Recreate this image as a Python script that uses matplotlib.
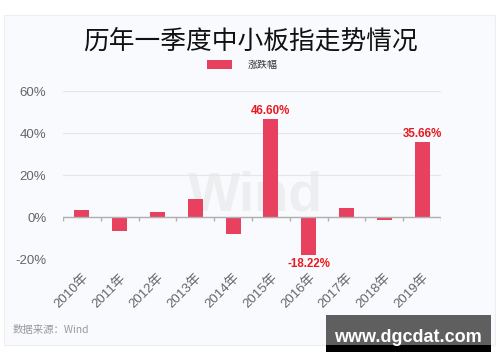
import numpy as np
import matplotlib
matplotlib.use("Agg")
import matplotlib.pyplot as plt
from matplotlib.patches import Rectangle

plt.rcParams['font.family'] = ['Liberation Sans', 'Noto Sans CJK SC', 'DejaVu Sans']

years = ['2010年', '2011年', '2012年', '2013年', '2014年',
         '2015年', '2016年', '2017年', '2018年', '2019年']
change = [3.5, -6.5, 2.4, 8.7, -8.1, 46.60, -18.22, 4.1, -1.4, 35.66]
labeled = ['2015年', '2016年', '2019年']
yticks = [-20, 0, 20, 40, 60]

bar_color = '#e8405f'
panel = '#f9fafd'

fig = plt.figure(figsize=(5, 3.62), dpi=100)
fig.patch.set_facecolor('white')
fig.patches.append(Rectangle((4 / 500, 1 - 345 / 362), 491 / 500, 330 / 362,
                             transform=fig.transFigure, facecolor=panel,
                             edgecolor='#eeeeee', lw=0.8, zorder=-1))

ax = fig.add_axes([0.126, 0.2845, 0.756, 0.464])
ax.set_zorder(2)
ax.set_facecolor(panel)

x = np.arange(len(years))
bars = ax.bar(x, change, width=0.4, color=bar_color, zorder=3)

ax.set_xlim(-0.5, len(years) - 0.5)
ax.set_ylim(-20, 60)
ax.set_yticks(yticks)
ax.set_yticklabels([f'{v}%' for v in yticks])
ax.grid(axis='y', color='#e6e6e6', lw=0.8, zorder=0)
for s in ax.spines.values():
    s.set_visible(False)
ax.tick_params(axis='y', length=0, pad=12, labelsize=9.5, labelcolor='#666666')

# zero line with category separators
ax.axhline(0, color='#b0b0b0', lw=1, zorder=4)
bounds = np.arange(len(years) + 1) - 0.5
ax.vlines(bounds, -2, 0, color='#b0b0b0', lw=1, zorder=4)

ax.set_xticks(x)
ax.set_xticklabels(years, rotation=45, ha='right', rotation_mode='anchor')
ax.tick_params(axis='x', length=0, pad=9, labelsize=9.5, labelcolor='#666666')

for xi, yr, v in zip(x, years, change):
    if yr in labeled:
        off = 1.2 if v > 0 else -1.2
        ax.text(xi, v + off, f'{v:.2f}%', ha='center',
                va='bottom' if v > 0 else 'top',
                color='#e8191f', fontsize=8.3, fontweight='bold', zorder=5)

# faint watermark
ax.text(4.6, 10, 'Wind', ha='center', va='center', fontsize=40,
        color='#d8d8d8', alpha=0.35, fontweight='bold', zorder=1)

fig.text(0.5, 1 - 42 / 362, '历年一季度中小板指走势情况', ha='center', va='center',
         fontsize=18.5, color='#111111', family=['Noto Sans CJK SC'])
fig.patches.append(Rectangle((207 / 500, 1 - 69 / 362), 25 / 500, 9 / 362,
                             transform=fig.transFigure, facecolor=bar_color,
                             edgecolor='none'))
fig.text(248 / 500, 1 - 65 / 362, '涨跌幅', ha='left', va='center',
         fontsize=7.2, color='#333333', family=['Noto Sans CJK SC'])

fig.text(13 / 500, 1 - 330 / 362, '数据来源：Wind', ha='left', va='center',
         fontsize=7.5, color='#999999', family=['Noto Sans CJK SC', 'DejaVu Sans'])

fig.patches.append(Rectangle((326 / 500, 1 - 345 / 362), 165 / 500, 30 / 362,
                             transform=fig.transFigure, facecolor='#5f5f5f',
                             edgecolor='none', zorder=5))
fig.patches.append(Rectangle((326 / 500, 1 - 352 / 362), 165 / 500, 7 / 362,
                             transform=fig.transFigure, facecolor='#000000',
                             edgecolor='none', zorder=5))
fig.text(408 / 500, 1 - 337 / 362, 'www.dgcdat.com', ha='center', va='center',
         fontsize=13, color='white', fontweight='bold', zorder=6)

fig.savefig('out.png', dpi=100, facecolor='white')
